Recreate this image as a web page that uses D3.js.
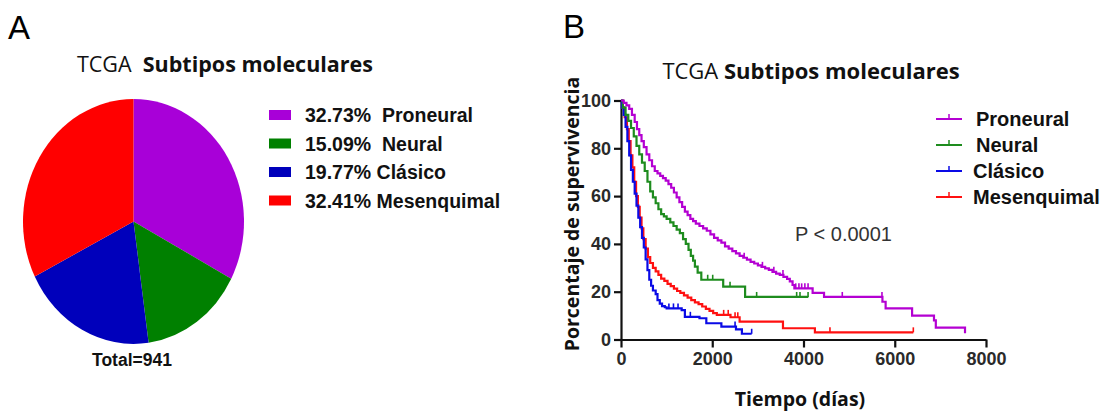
<!DOCTYPE html>
<html>
<head>
<meta charset="utf-8">
<script src="https://cdn.jsdelivr.net/npm/d3@7"></script>
<style>
  body { margin: 0; background: #fff; }
  svg { display: block; }
</style>
</head>
<body>
<div id="chart"></div>
<script>
const width = 1110;
const height = 412;

// panel A: pie
const subtypes = ["Proneural", "Neural", "Clásico", "Mesenquimal"];
const shares = [32.73, 15.09, 19.77, 32.41];
const pieColors = ["#a800d8", "#008000", "#0000bb", "#ff0000"];
const total = 941;

// panel B: Kaplan-Meier, [tiempo, supervivencia]
const proneural = [
  [0, 100], [60, 99], [120, 98], [180, 96.5], [240, 94], [300, 91], [350, 88], [400, 85.5],
  [450, 83], [500, 80.5], [560, 77.5], [620, 75], [680, 72.5], [740, 70.5], [800, 69.5],
  [860, 68.5], [920, 67.5], [980, 66.5], [1040, 65], [1100, 63.5], [1160, 61.5], [1220, 59.5],
  [1280, 57.5], [1340, 55.5], [1400, 53.5], [1460, 52], [1520, 50.5], [1580, 49.5], [1640, 48.5],
  [1720, 47.5], [1800, 46.5], [1880, 45.5], [1960, 44], [2040, 42.5], [2120, 41.5], [2200, 40.5],
  [2280, 39], [2360, 38], [2440, 37], [2520, 36], [2600, 35], [2680, 34.2], [2760, 33.4],
  [2840, 32.5], [2920, 31.8], [3000, 31], [3080, 30.4], [3160, 29.8], [3240, 29.1], [3320, 28.3],
  [3400, 27.6], [3480, 27], [3560, 26.2], [3640, 25.4], [3700, 24.3], [3760, 22.8], [3800, 21.4],
  [4200, 19.5], [4450, 17.8], [5730, 15.8], [5800, 13], [6380, 10], [6860, 8], [6900, 5],
  [7540, 2.6]
];
const neural = [
  [0, 100], [40, 97], [100, 94], [160, 91.5], [220, 88.5], [280, 85], [340, 81], [400, 77.5],
  [460, 74], [520, 70.5], [580, 66], [640, 62], [700, 59.5], [760, 57], [820, 54.5], [880, 52.5],
  [940, 51.5], [1000, 50.5], [1080, 49], [1150, 47.5], [1220, 46], [1290, 44.5], [1360, 42],
  [1420, 40], [1480, 37.5], [1530, 35], [1580, 33], [1620, 30.5], [1680, 28], [1760, 25],
  [2240, 22.1], [2720, 17.8], [4106, 17.8]
];
const clasico = [
  [0, 100], [20, 97], [60, 94], [100, 89], [140, 83], [180, 77], [220, 71], [260, 66], [300, 61],
  [340, 56], [380, 51], [420, 47], [460, 42.5], [500, 38.5], [540, 33.5], [580, 29], [620, 25],
  [660, 22.5], [700, 20.5], [760, 19], [800, 16.5], [850, 15], [900, 14], [960, 13.5],
  [1000, 13], [1330, 12.3], [1400, 9.5], [1720, 8.9], [1870, 6.8], [2200, 5.4], [2520, 4.2],
  [2650, 2.4], [2864, 2.4]
];
const mesenquimal = [
  [0, 100], [30, 97], [80, 93], [130, 88], [170, 83], [210, 77], [250, 72], [290, 66], [330, 60],
  [370, 55.5], [410, 51], [450, 46.5], [490, 42], [540, 38], [590, 34.5], [640, 32], [700, 30],
  [760, 28.5], [820, 27], [880, 25.5], [950, 24.5], [1020, 23.3], [1090, 22.3], [1160, 21.3],
  [1230, 20.3], [1300, 19.5], [1380, 18.5], [1460, 17.5], [1540, 16.5], [1620, 15.5],
  [1700, 14.8], [1780, 13.8], [1860, 12.8], [1940, 12], [2020, 11], [2100, 10.3], [2400, 9.3],
  [2600, 7.5], [3550, 4.7], [4250, 3], [6407, 3]
];
// censored times
const proneuralCens = [2700, 3100, 3350, 3550, 3830, 3900, 3960, 4030, 4100, 4850, 5720];
const neuralCens = [1900, 2010, 2390, 2973, 3850, 3923, 4100];
const clasicoCens = [1050, 1150, 1250, 1520, 2500, 2864];
const mesenquimalCens = [2250, 2350, 2500, 2560, 4580, 6407];

const kmColors = ["#b400d2", "#1e8c1e", "#0a0ae6", "#ff1010"];
const xTicks = [0, 2000, 4000, 6000, 8000];
const yTicks = [0, 20, 40, 60, 80, 100];

const svg = d3.select("#chart")
  .append("svg")
    .attr("width", width)
    .attr("height", height);

// ---------- A ----------
svg.append("text")
  .attr("x", 8).attr("y", 39)
  .attr("font-family", "Liberation Sans, Arial, sans-serif")
  .attr("font-size", 33)
  .text("A");

const titleA = svg.append("text")
  .attr("x", 225).attr("y", 72)
  .attr("text-anchor", "middle")
  .attr("font-family", "Open Sans, sans-serif")
  .attr("font-size", 21.5)
  .attr("fill", "#111")
  .attr("xml:space", "preserve");
titleA.append("tspan").text("TCGA  ");
titleA.append("tspan").attr("font-weight", 700).text("Subtipos moleculares");

const pie = d3.pie().sort(null).value(d => d);
const arc = d3.arc().innerRadius(0).outerRadius(110.5);

svg.append("g")
    .attr("transform", "translate(133.5,221.5) scale(1,1.108)")
  .selectAll("path")
  .data(pie(shares))
  .join("path")
    .attr("d", arc)
    .attr("fill", (d, i) => pieColors[i]);

svg.append("text")
  .attr("x", 132).attr("y", 366)
  .attr("text-anchor", "middle")
  .attr("font-family", "Liberation Sans, Arial, sans-serif")
  .attr("font-weight", 700)
  .attr("font-size", 17.5)
  .attr("fill", "#111")
  .text("Total=" + total);

const legA = svg.append("g")
  .selectAll("g")
  .data(subtypes)
  .join("g")
    .attr("transform", (d, i) => `translate(269,${115 + i * 28.5})`);
legA.append("rect")
  .attr("x", 0).attr("y", -5)
  .attr("width", 22).attr("height", 10)
  .attr("fill", (d, i) => pieColors[i]);
legA.append("text")
  .attr("x", 36).attr("y", 7)
  .attr("font-family", "Liberation Sans, Arial, sans-serif")
  .attr("font-weight", 700)
  .attr("font-size", 19.5)
  .attr("fill", "#111")
  .attr("xml:space", "preserve")
  .text((d, i) => shares[i].toFixed(2) + "%" + (i < 2 ? "  " : " ") + d);

// ---------- B ----------
svg.append("text")
  .attr("x", 563).attr("y", 38)
  .attr("font-family", "Liberation Sans, Arial, sans-serif")
  .attr("font-size", 33)
  .text("B");

const titleB = svg.append("text")
  .attr("x", 811).attr("y", 79)
  .attr("text-anchor", "middle")
  .attr("font-family", "Open Sans, sans-serif")
  .attr("font-size", 22)
  .attr("fill", "#111");
titleB.append("tspan").text("TCGA ");
titleB.append("tspan").attr("font-weight", 700).text("Subtipos moleculares");

const x = d3.scaleLinear().domain([0, 8000]).range([621, 986]);
const y = d3.scaleLinear().domain([0, 100]).range([339.5, 100.5]);

const xAxis = svg.append("g")
  .attr("transform", "translate(0,339.5)")
  .call(d3.axisBottom(x).tickValues(xTicks).tickFormat(d3.format("d"))
    .tickSize(8).tickSizeOuter(0).tickPadding(5));
const yAxis = svg.append("g")
  .attr("transform", "translate(621,0)")
  .call(d3.axisLeft(y).tickValues(yTicks).tickSize(7).tickSizeOuter(0).tickPadding(3));

[xAxis, yAxis].forEach(g => {
  g.selectAll("path, line").attr("stroke", "#111").attr("stroke-width", 2.2);
  g.selectAll("text")
    .attr("font-family", "Liberation Sans, Arial, sans-serif")
    .attr("font-weight", 700)
    .attr("font-size", 18)
    .attr("fill", "#2a2a2a");
});

svg.append("text")
  .attr("transform", "translate(579,214) rotate(-90)")
  .attr("text-anchor", "middle")
  .attr("font-family", "Open Sans, sans-serif")
  .attr("font-weight", 700)
  .attr("font-size", 19.5)
  .attr("fill", "#111")
  .text("Porcentaje de supervivencia");

svg.append("text")
  .attr("x", 800).attr("y", 406)
  .attr("text-anchor", "middle")
  .attr("font-family", "Open Sans, sans-serif")
  .attr("font-weight", 700)
  .attr("font-size", 19.5)
  .attr("fill", "#111")
  .text("Tiempo (días)");

const curves = [proneural, neural, clasico, mesenquimal];
const cens = [proneuralCens, neuralCens, clasicoCens, mesenquimalCens];

const line = d3.line()
  .x(d => x(d[0]))
  .y(d => y(d[1]))
  .curve(d3.curveStepAfter);

function survAt(data, t) {
  let s = data[0][1];
  for (const d of data) { if (d[0] <= t) s = d[1]; }
  return s;
}

// draw in reverse so purple ends on top like the original
[3, 2, 1, 0].forEach(i => {
  svg.append("path")
    .datum(curves[i])
    .attr("fill", "none")
    .attr("stroke", kmColors[i])
    .attr("stroke-width", 2.2)
    .attr("d", line);
  svg.append("g")
    .selectAll("line")
    .data(cens[i])
    .join("line")
      .attr("x1", d => x(d)).attr("x2", d => x(d))
      .attr("y1", d => y(survAt(curves[i], d)))
      .attr("y2", d => y(survAt(curves[i], d)) - 5)
      .attr("stroke", kmColors[i])
      .attr("stroke-width", 1.6);
});

svg.append("text")
  .attr("x", 795).attr("y", 241)
  .attr("font-family", "Liberation Sans, Arial, sans-serif")
  .attr("font-size", 20)
  .attr("fill", "#333")
  .text("P < 0.0001");

const legB = svg.append("g")
  .selectAll("g")
  .data(subtypes)
  .join("g")
    .attr("transform", (d, i) => `translate(936,${119 + i * 26})`);
legB.append("line")
  .attr("x1", 0).attr("x2", 26)
  .attr("stroke", (d, i) => kmColors[i])
  .attr("stroke-width", 2);
legB.append("line")
  .attr("x1", 13).attr("x2", 13).attr("y1", 0).attr("y2", -5)
  .attr("stroke", (d, i) => kmColors[i])
  .attr("stroke-width", 1.5);
legB.append("text")
  .attr("x", (d, i) => i < 2 ? 40 : 37)
  .attr("y", 7)
  .attr("font-family", "Liberation Sans, Arial, sans-serif")
  .attr("font-weight", 700)
  .attr("font-size", 20)
  .attr("fill", "#111")
  .text(d => d);
</script>
</body>
</html>
